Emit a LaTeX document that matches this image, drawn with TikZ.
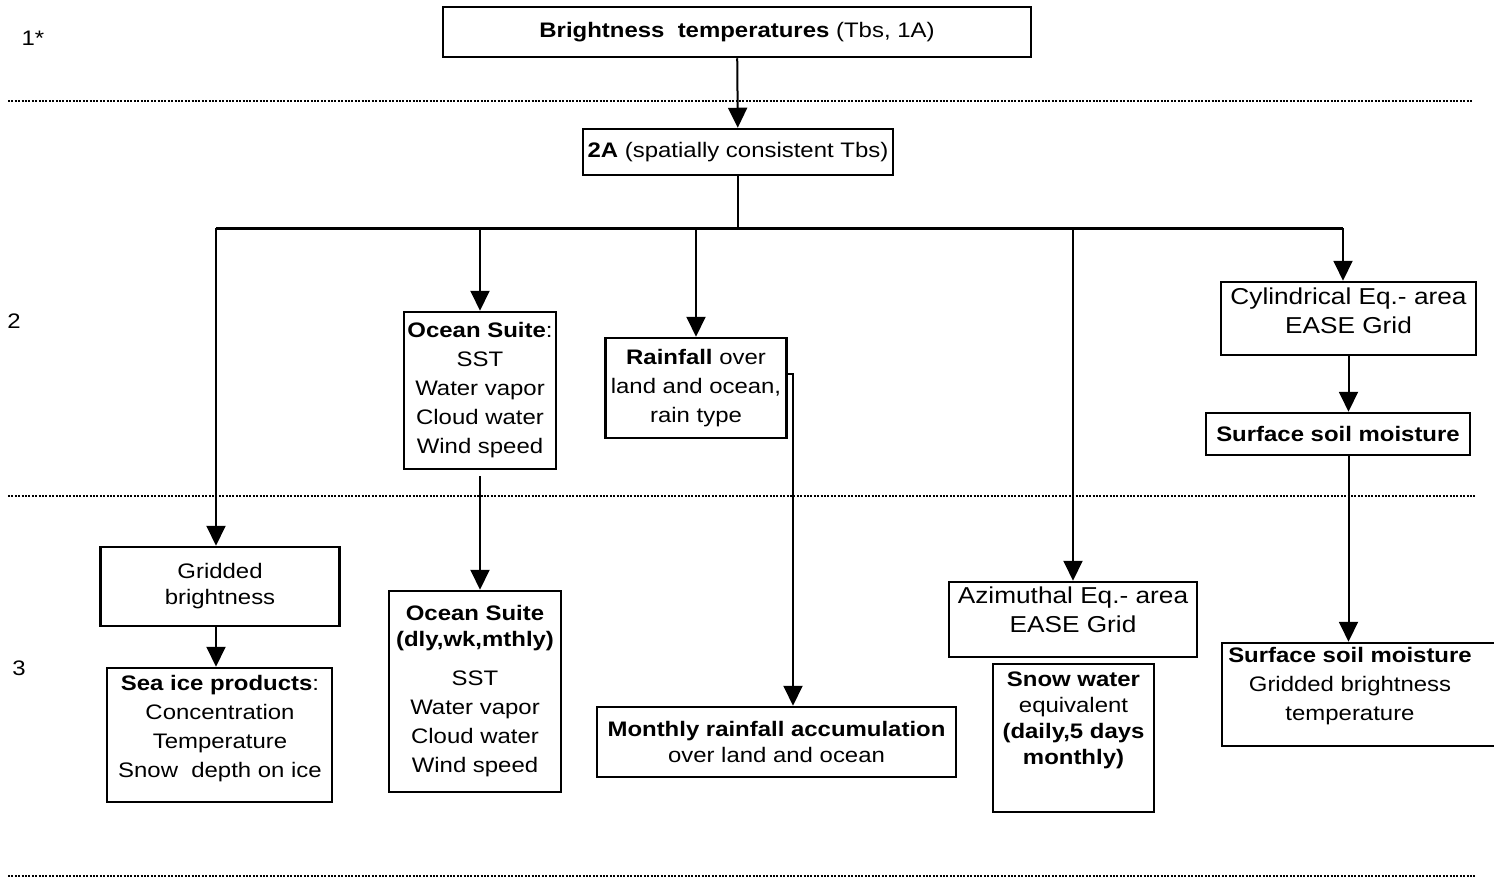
\documentclass[tikz,border=0pt]{standalone}
\usepackage{fontspec}
\setmainfont[FakeStretch=1.14]{Liberation Sans}
\usetikzlibrary{arrows.meta}
\usetikzlibrary{positioning}
\newcommand{\boxfont}{\fontsize{21}{29}\selectfont}
\newcommand{\bigboxfont}{\fontsize{23}{29}\selectfont}

\begin{document}
\begin{tikzpicture}
  [x=1pt, y=-1pt,
  box/.style={draw=black,line width=2.5pt,inner sep=0pt,align=center,font=\boxfont},
  txt/.style={inner sep=0pt,align=center,font=\boxfont},
  arr/.style={-{Triangle[length=20pt,width=19pt]},line width=2pt},
  conn/.style={line width=2pt},
  dotline/.style={line width=2pt,dash pattern=on 2pt off 1.4pt}]
  \useasboundingbox (0,0) rectangle (1494,878);

  % level separators
  \draw [dotline] (8,101) -- (1473,101);
  \draw [dotline] (8,496) -- (1475,496);
  \draw [dotline] (8,876) -- (1475,876);

  \node[txt] (l1) at (33,38) {1*};
  \node[txt] (l2) at (14,321) {2};
  \node[txt] (l3) at (19,668) {3};

  \node[box,minimum width=588pt,minimum height=50pt] (101) at (737,32) {\textbf{Brightness\ \ temperatures} (Tbs, 1A)};
  \node[box,minimum width=310pt,minimum height=46pt] (102) at (738,152) {\textbf{2A} (spatially consistent Tbs)};

  % level 2
  \node[box,minimum width=152pt,minimum height=157pt] (211) at (480,390.5) {\textbf{Ocean Suite}:\\SST\\Water vapor\\Cloud water\\Wind speed};
  \node[box,minimum width=181pt,minimum height=100pt] (212) at (696,388) {\textbf{Rainfall} over\\land and ocean,\\rain type};
  \node[box,minimum width=255pt,minimum height=73pt] (213) at (1348.5,318.5) {};
  \node[txt,font=\bigboxfont] (213t) at (1348.5,310.5) {Cylindrical Eq.- area\\EASE Grid};
  \node[box,minimum width=264pt,minimum height=42pt] (214) at (1338,434) {\textbf{Surface soil moisture}};

  % level 3
  \node[box,minimum width=239pt,minimum height=79pt] (311) at (220,586.5) {Gridded\\[-3pt]brightness};
  \node[box,minimum width=225pt,minimum height=134pt] (312) at (219.5,735) {};
  \node[txt] (312t) at (220,729) {\textbf{Sea ice products}:\\Concentration\\Temperature\\Snow\ \ depth on ice};
  \node[box,minimum width=172pt,minimum height=201pt] (313) at (475,691.5) {\textbf{Ocean Suite}\\[-3pt]\textbf{(dly,wk,mthly)}\\[10pt]SST\\Water vapor\\Cloud water\\Wind speed};
  \node[box,minimum width=359pt,minimum height=70pt] (314) at (776.5,742) {\textbf{Monthly rainfall accumulation}\\[-3pt]over land and ocean};
  \node[box,minimum width=248pt,minimum height=75pt] (315) at (1073,619.5) {};
  \node[txt,font=\bigboxfont] (315t) at (1073,609.5) {Azimuthal Eq.- area\\EASE Grid};
  \node[box,minimum width=161pt,minimum height=148pt] (316) at (1073.5,738) {};
  \node[txt,font=\fontsize{21}{26}\selectfont] (316t) at (1073.5,720.5) {\textbf{Snow water}\\equivalent\\\textbf{(daily,5 days}\\\textbf{monthly)}};
  \node[box,minimum width=278pt,minimum height=103pt] (317) at (1361,694.5) {};
  \node[txt] (317t) at (1350,686) {\textbf{Surface soil moisture}\\Gridded brightness\\temperature};

  % branching
  \coordinate (c0) at (741,228);
  \coordinate (c1) at (216,228);
  \coordinate (c2) at (480,228);
  \coordinate (c3) at (696,228);
  \coordinate (c4) at (1073,228);
  \coordinate (c5) at (1343,228);

  \draw [arr] (101) -- (102);
  \draw [conn] (102.south) -- (102.south |- c0);
  \draw [line width=3pt] (c1) -- (c5);

  \draw [arr] (c1) -- (c1 |- 311.north);
  \draw [arr] (c2) -- (211.north);
  \draw [arr] (c3) -- (212.north);
  \draw [arr] (c4) -- (315.north);
  \draw [arr] (c5) -- (c5 |- 213.north);

  \draw [arr] (213.south) -- (213.south |- 214.north);
  \draw [arr] (213.south |- 214.south) -- (213.south |- 317.north);
  \draw [arr,shorten <=6pt] (211.south) -- (211.south |- 313.north);
  \draw [arr] ([yshift=14pt]212.east) -| ([xshift=16.5pt]314.north);
  \draw [arr] (311.south -| c1) -- (c1 |- 312.north);

\end{tikzpicture}
\end{document}
